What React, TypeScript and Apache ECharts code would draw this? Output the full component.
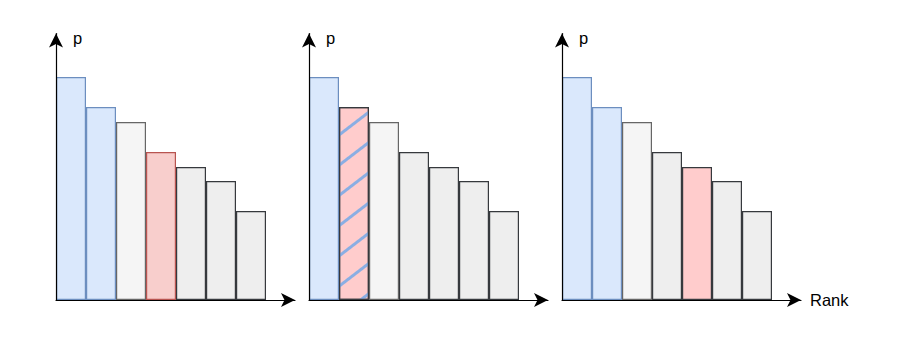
import React, { useEffect, useRef } from 'react';
import * as echarts from 'echarts';

// ---- data ----
const ranks = [1, 2, 3, 4, 5, 6, 7];
const probabilities = [22.3, 19.3, 17.8, 14.8, 13.3, 11.9, 8.9];
const panelRoles = [
  ['selected', 'selected', 'boundary', 'sampled', 'rest', 'rest', 'rest'],
  ['selected', 'sampledHatch', 'boundary', 'rest', 'rest', 'rest', 'rest'],
  ['selected', 'selected', 'boundary', 'rest', 'sampledAlt', 'rest', 'rest'],
];
const yAxisName = 'p';
const xAxisName = 'Rank';

// ---- styles ----
const roleStyle: Record<string, any> = {
  selected: { color: '#dae8fc', borderColor: '#6c8ebf' },
  boundary: { color: '#f5f5f5', borderColor: '#666666' },
  sampled: { color: '#f8cecc', borderColor: '#b85450' },
  rest: { color: '#eeeeee', borderColor: '#36393d' },
  sampledAlt: { color: '#ffcccc', borderColor: '#36393d' },
  sampledHatch: {
    color: '#ffcccc',
    borderColor: '#36393d',
    decal: {
      symbol: 'rect',
      symbolSize: 1,
      color: '#8aaee3',
      dashArrayX: [1, 0],
      dashArrayY: [2.5, 20.5],
      rotation: -Math.PI / 4.8,
    },
  },
};

const FONT = '"Liberation Sans", Arial, Helvetica, sans-serif';
const gridLefts = [56, 309, 562];
const GRID_TOP = 33.5;
const GRID_H = 266.5;
const GRID_W = 239;
const BAR_W = 30;
const PX_PER_UNIT = 10;

export default function App() {
  const ref = useRef<HTMLDivElement>(null);
  useEffect(() => {
    if (!ref.current) return;
    const chart = echarts.init(ref.current, null, { renderer: 'svg' });
    const axisLine = {
      show: true,
      onZero: false,
      symbol: ['none', 'arrow'],
      symbolSize: [10.5, 14],
      lineStyle: { color: '#000000', width: 1.2 },
    };
    const nameStyle = { fontSize: 16.5, fontWeight: 'normal', color: '#000000', fontFamily: FONT };
    const option: any = {
      animation: false,
      backgroundColor: '#ffffff',
      grid: gridLefts.map((left) => ({
        left,
        top: GRID_TOP,
        width: GRID_W,
        height: GRID_H,
        containLabel: false,
      })),
      xAxis: gridLefts.map((_, i) => ({
        type: 'value',
        gridIndex: i,
        min: 0,
        max: GRID_W / BAR_W,
        axisLine,
        axisTick: { show: false },
        axisLabel: { show: false },
        splitLine: { show: false },
        name: i === 2 ? xAxisName : '',
        nameLocation: 'end',
        nameGap: 9,
        nameTextStyle: { ...nameStyle },
        z: 10,
      })),
      yAxis: gridLefts.map((_, i) => ({
        type: 'value',
        gridIndex: i,
        min: 0,
        max: GRID_H / PX_PER_UNIT,
        axisLine,
        axisTick: { show: false },
        axisLabel: { show: false },
        splitLine: { show: false },
        name: yAxisName,
        nameLocation: 'end',
        nameGap: -4,
        nameTextStyle: {
          ...nameStyle,
          align: 'left',
          verticalAlign: 'middle',
          padding: [0, 0, 0, 17],
        },
        z: 10,
      })),
      series: panelRoles.map((roles, i) => ({
        type: 'bar',
        xAxisIndex: i,
        yAxisIndex: i,
        barWidth: BAR_W,
        data: ranks.map((r, k) => ({
          value: [r - 0.5, probabilities[k]],
          itemStyle: { borderWidth: 1.2, ...roleStyle[roles[k]] },
        })),
      })),
    };
    chart.setOption(option);
    return () => chart.dispose();
  }, []);
  return (
    <div
      ref={ref}
      style={{ position: 'absolute', left: 0, top: 0, width: 913, height: 339, background: '#fff' }}
    />
  );
}
